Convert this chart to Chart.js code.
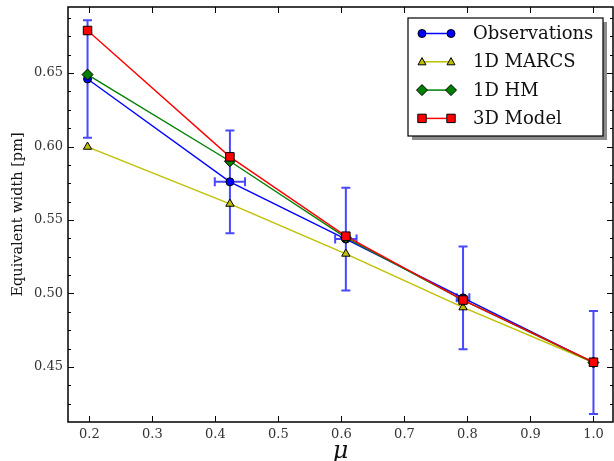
<!DOCTYPE html>
<html>
<head>
<meta charset="utf-8">
<script src="https://cdn.jsdelivr.net/npm/chart.js@4.4.1/dist/chart.umd.min.js"></script>
<style>
  html, body { margin: 0; padding: 0; background: #fff; }
  #wrap { width: 614px; height: 461px; }
</style>
</head>
<body>
<div id="wrap"><canvas id="chart" width="614" height="461"></canvas></div>
<script>
// ---------- DATA ----------
const muValues = [0.197, 0.423, 0.607, 0.793, 1.0];
const observations = [0.646, 0.576, 0.537, 0.497, 0.453];
const obsYErr = [0.040, 0.035, 0.035, 0.035, 0.035];
const obsXErr = [0, 0.024, 0.017, 0.010, 0];
const marcs1D = [0.5998, 0.561, 0.527, 0.4905, 0.453];
const hm1D = [0.649, 0.590, 0.538, 0.4955, 0.453];
const model3D = [0.679, 0.593, 0.539, 0.4955, 0.4532];

const xTicks = [0.2, 0.3, 0.4, 0.5, 0.6, 0.7, 0.8, 0.9, 1.0];
const yTicks = [0.45, 0.50, 0.55, 0.60, 0.65];

const legendItems = [
    { label: "Observations", color: "#0000ff", style: "circle" },
    { label: "1D MARCS", color: "#bfbf00", style: "triangle" },
    { label: "1D HM", color: "#008000", style: "diamond" },
    { label: "3D Model", color: "#ff0000", style: "square" }
];

const SERIF = "'DejaVu Serif', serif";

function toPoints(ys) {
    return muValues.map((x, i) => ({ x: x, y: ys[i] }));
}

// ---------- MARKERS (for legend) ----------
function drawMarker(ctx, style, x, y, color) {
    ctx.save();
    ctx.fillStyle = color;
    ctx.strokeStyle = "#000";
    ctx.lineWidth = 1;
    ctx.beginPath();
    if (style === "circle") {
        ctx.arc(x, y, 4, 0, Math.PI * 2);
    } else if (style === "triangle") {
        ctx.moveTo(x, y - 4.2);
        ctx.lineTo(x + 4, y + 3);
        ctx.lineTo(x - 4, y + 3);
        ctx.closePath();
    } else if (style === "diamond") {
        ctx.moveTo(x, y - 5.5);
        ctx.lineTo(x + 5.5, y);
        ctx.lineTo(x, y + 5.5);
        ctx.lineTo(x - 5.5, y);
        ctx.closePath();
    } else {
        ctx.rect(x - 4.2, y - 4.2, 8.4, 8.4);
    }
    ctx.fill();
    ctx.stroke();
    ctx.restore();
}

// ---------- ERROR BARS ----------
const errorBars = {
    id: "errorBars",
    beforeDatasetsDraw(chart) {
        const { ctx, scales: { x, y } } = chart;
        ctx.save();
        ctx.strokeStyle = "rgba(40,40,255,0.85)";
        ctx.lineWidth = 2;
        const cap = 4.5;
        muValues.forEach((mu, i) => {
            const px = x.getPixelForValue(mu);
            const py = y.getPixelForValue(observations[i]);
            const top = y.getPixelForValue(observations[i] + obsYErr[i]);
            const bot = y.getPixelForValue(observations[i] - obsYErr[i]);
            ctx.beginPath();
            ctx.moveTo(px, top); ctx.lineTo(px, bot);
            ctx.moveTo(px - cap, top); ctx.lineTo(px + cap, top);
            ctx.moveTo(px - cap, bot); ctx.lineTo(px + cap, bot);
            ctx.stroke();
            if (obsXErr[i] > 0) {
                const l = x.getPixelForValue(mu - obsXErr[i]);
                const r = x.getPixelForValue(mu + obsXErr[i]);
                ctx.beginPath();
                ctx.moveTo(l, py); ctx.lineTo(r, py);
                ctx.moveTo(l, py - cap); ctx.lineTo(l, py + cap);
                ctx.moveTo(r, py - cap); ctx.lineTo(r, py + cap);
                ctx.stroke();
            }
        });
        ctx.restore();
    }
};

// ---------- FRAME, TICKS, LEGEND ----------
const frameAndLegend = {
    id: "frameAndLegend",
    afterDraw(chart) {
        const { ctx, chartArea: a, scales: { x, y } } = chart;
        ctx.save();
        ctx.strokeStyle = "#000";
        ctx.lineWidth = 1;
        ctx.beginPath();
        // x major ticks, bottom and top
        xTicks.forEach(v => {
            const px = Math.round(x.getPixelForValue(v)) + 0.5;
            ctx.moveTo(px, a.bottom); ctx.lineTo(px, a.bottom - 6);
            ctx.moveTo(px, a.top); ctx.lineTo(px, a.top + 6);
        });
        // y ticks, major every 0.05 and minor every 0.0125
        for (let k = 1; k * 0.0125 + 0.4125 <= 0.695; k++) {
            const v = 0.4125 + k * 0.0125;
            const py = Math.round(y.getPixelForValue(v)) + 0.5;
            const len = (k % 4 === 3) ? 6 : 3;
            ctx.moveTo(a.left, py); ctx.lineTo(a.left + len, py);
            ctx.moveTo(a.right, py); ctx.lineTo(a.right - len, py);
        }
        ctx.stroke();

        ctx.lineWidth = 1.5;
        ctx.strokeRect(a.left, a.top, a.right - a.left, a.bottom - a.top);

        // legend box with shadow
        const bx = 408, by = 18, bw = 195, bh = 118;
        ctx.fillStyle = "#8c8c8c";
        ctx.fillRect(bx + 4, by + 4, bw, bh);
        ctx.fillStyle = "#fff";
        ctx.fillRect(bx, by, bw, bh);
        ctx.lineWidth = 1.2;
        ctx.strokeStyle = "#000";
        ctx.strokeRect(bx, by, bw, bh);

        ctx.font = "18px " + SERIF;
        ctx.textBaseline = "middle";
        ctx.textAlign = "left";
        legendItems.forEach((item, i) => {
            const ly = 33.5 + i * 28.3;
            ctx.strokeStyle = item.color;
            ctx.lineWidth = 1.5;
            ctx.beginPath();
            ctx.moveTo(422, ly); ctx.lineTo(451, ly);
            ctx.stroke();
            drawMarker(ctx, item.style, 422, ly, item.color);
            drawMarker(ctx, item.style, 451, ly, item.color);
            ctx.fillStyle = "#111";
            ctx.fillText(item.label, 473, ly + 1);
        });
        ctx.restore();
    }
};

// ---------- CHART ----------
function lineSet(label, ys, color, style, radius, order) {
    return {
        label: label,
        data: toPoints(ys),
        borderColor: color,
        backgroundColor: color,
        borderWidth: 1.4,
        pointStyle: style,
        pointRadius: radius,
        pointBackgroundColor: color,
        pointBorderColor: "#000",
        pointBorderWidth: 1,
        showLine: true,
        tension: 0,
        order: order
    };
}

const ctx = document.getElementById("chart").getContext("2d");
new Chart(ctx, {
    type: "scatter",
    data: {
        datasets: [
            lineSet("Observations", observations, "#0000ff", "circle", 4, 3),
            lineSet("1D MARCS", marcs1D, "#bfbf00", "triangle", 4.8, 2),
            lineSet("1D HM", hm1D, "#008000", "rectRot", 5.5, 1),
            lineSet("3D Model", model3D, "#ff0000", "rect", 6, 0)
        ]
    },
    options: {
        responsive: false,
        animation: false,
        layout: { autoPadding: false, padding: { top: 7, right: 1, left: 0, bottom: 0 } },
        plugins: {
            legend: { display: false },
            tooltip: { enabled: false }
        },
        scales: {
            x: {
                type: "linear",
                min: 0.166,
                max: 1.031,
                afterBuildTicks: s => { s.ticks = xTicks.map(v => ({ value: v })); },
                afterFit: s => { s.height = 39; s.paddingLeft = 0; s.paddingRight = 0; },
                grid: { display: false, drawTicks: false },
                border: { display: false },
                ticks: {
                    color: "#333",
                    font: { family: SERIF, size: 13 },
                    padding: 5,
                    maxRotation: 0,
                    callback: v => v.toFixed(1)
                },
                title: {
                    display: true,
                    text: "\u03bc",
                    color: "#111",
                    font: { family: SERIF, size: 24, style: "italic", lineHeight: 0.8 },
                    padding: 0
                }
            },
            y: {
                type: "linear",
                min: 0.4125,
                max: 0.695,
                afterBuildTicks: s => { s.ticks = yTicks.map(v => ({ value: v })); },
                afterFit: s => { s.width = 68; s.paddingTop = 0; s.paddingBottom = 0; },
                grid: { display: false, drawTicks: false },
                border: { display: false },
                ticks: {
                    color: "#333",
                    font: { family: SERIF, size: 13 },
                    padding: 5,
                    callback: v => v.toFixed(2)
                },
                title: {
                    display: true,
                    text: "Equivalent width [pm]",
                    color: "#111",
                    font: { family: SERIF, size: 14.5, lineHeight: 1.2 },
                    padding: { top: 10, bottom: 0 }
                }
            }
        }
    },
    plugins: [errorBars, frameAndLegend]
});
</script>
</body>
</html>
